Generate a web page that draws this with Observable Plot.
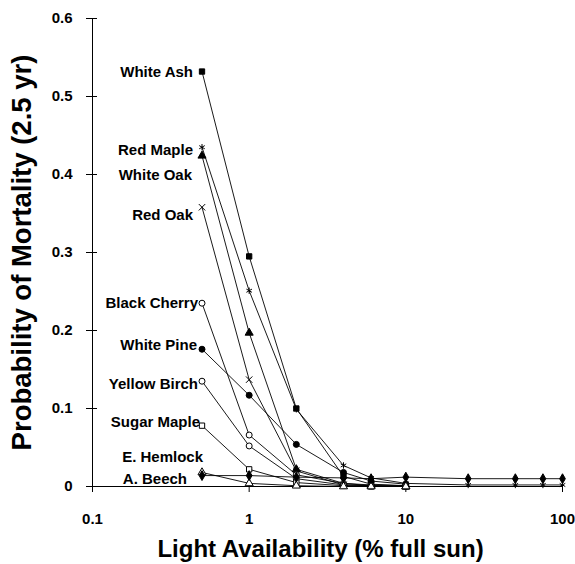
<!DOCTYPE html>
<html>
<head>
<meta charset="utf-8">
<script src="https://cdn.jsdelivr.net/npm/d3@7"></script>
<script src="https://cdn.jsdelivr.net/npm/@observablehq/plot@0.6"></script>
<style>
  html, body { margin: 0; padding: 0; background: white; }
</style>
</head>
<body>
<div id="chart"></div>
<script>
// ---- data ----
const lightLevels = [0.5, 1, 2, 4, 6, 10, 25, 50, 75, 100];
const species = ["White Ash", "Red Maple", "White Oak", "Red Oak", "Black Cherry",
  "White Pine", "Yellow Birch", "Sugar Maple", "E. Hemlock", "A. Beech"];
const whiteAsh    = [0.532, 0.295, 0.100, 0.013, 0.003, 0.001];
const redMaple    = [0.435, 0.251, 0.099, 0.027, 0.011, 0.004, 0.002, 0.002, 0.002, 0.002];
const whiteOak    = [0.424, 0.197, 0.022, 0.004, 0.001, 0.000];
const redOak      = [0.358, 0.137, 0.020, 0.002, 0.001, 0.000];
const blackCherry = [0.235, 0.066, 0.015, 0.004, 0.002, 0.001];
const whitePine   = [0.176, 0.117, 0.054, 0.018, 0.007, 0.003];
const yellowBirch = [0.135, 0.052, 0.010, 0.002, 0.001, 0.000];
const sugarMaple  = [0.078, 0.022, 0.005, 0.001, 0.000, 0.000];
const eHemlock    = [0.018, 0.004, 0.001, 0.000, 0.000, 0.000];
const aBeech      = [0.014, 0.014, 0.012, 0.011, 0.010, 0.012, 0.010, 0.010, 0.010, 0.010];
const seriesValues = [whiteAsh, redMaple, whiteOak, redOak, blackCherry,
  whitePine, yellowBirch, sugarMaple, eHemlock, aBeech];
const xTicks = [0.1, 1, 10, 100];
const yTicks = [0, 0.1, 0.2, 0.3, 0.4, 0.5, 0.6];
const xTitle = "Light Availability (% full sun)";
const yTitle = "Probability of Mortality (2.5 yr)";

// ---- styles ----
const markerSymbol = ["square", "asterisk", "triangle", "times", "circle",
  "circle", "circle", "square", "triangle", "diamond"];
const markerFill = ["black", "white", "black", "white", "white",
  "black", "white", "white", "white", "black"];
// label offsets in pixels [dx, dy]
const labelOffset = [[-9, 1], [-9, 3], [-10, 19], [-9, 8], [-4, 0],
  [-5, -4], [-4, 3], [-2, -3], [1, -15], [-15, 4]];

const rows = [];
species.forEach((s, i) => {
  seriesValues[i].forEach((v, j) => {
    if (v != null) rows.push({species: s, light: lightLevels[j], p: v, idx: i});
  });
});

const marks = [
  Plot.ruleX([0.1], {stroke: "black", strokeWidth: 1}),
  Plot.ruleY([0], {stroke: "black", strokeWidth: 1}),
  Plot.ruleY(yTicks, {x1: 0.1, x2: 0.1, y: d => d, insetLeft: -6, insetRight: -5, stroke: "black"}),
  Plot.ruleX(xTicks, {y1: 0, y2: 0, x: d => d, insetTop: -4, insetBottom: -6, stroke: "black"}),
  Plot.axisY({ticks: yTicks, label: null, tickSize: 0, tickPadding: 20, tickFormat: d => d === 0 ? "0" : d3.format(".1f")(d), fontSize: 15, fontWeight: "bold"}),
  Plot.axisX({ticks: xTicks, label: null, tickSize: 0, tickPadding: 27, tickFormat: d => String(d), fontSize: 15, fontWeight: "bold"}),
  Plot.line(rows, {x: "light", y: "p", z: "species", stroke: "black", strokeWidth: 0.9}),
];
species.forEach((s, i) => {
  const pts = rows.filter(r => r.idx === i);
  marks.push(Plot.dot(pts, {x: "light", y: "p", symbol: () => markerSymbol[i],
    fill: markerFill[i], stroke: "black", strokeWidth: 1, r: 3}));
  marks.push(Plot.text([pts[0]], {x: "light", y: "p", text: "species", textAnchor: "end",
    dx: labelOffset[i][0], dy: labelOffset[i][1], fontSize: 15, fontWeight: "bold"}));
});
marks.push(Plot.text([yTitle], {frameAnchor: "left", textAnchor: "middle", lineAnchor: "middle", rotate: -90, dx: -70, dy: 0, fontSize: 27.5, fontWeight: "bold"}));
marks.push(Plot.text([xTitle], {frameAnchor: "bottom", textAnchor: "middle", lineAnchor: "middle", dx: -7, dy: 63, fontSize: 24, fontWeight: "bold"}));

const chart = Plot.plot({
  width: 575,
  height: 564,
  marginLeft: 92,
  marginRight: 13,
  marginTop: 18,
  marginBottom: 78,
  x: {type: "log", domain: [0.1, 100], axis: null},
  y: {domain: [0, 0.6], axis: null},
  symbol: {type: "identity"},
  style: {fontFamily: "'Liberation Sans', Arial, sans-serif", fontWeight: "bold", color: "black", background: "white"},
  marks
});
document.getElementById("chart").appendChild(chart);
</script>
</body>
</html>
